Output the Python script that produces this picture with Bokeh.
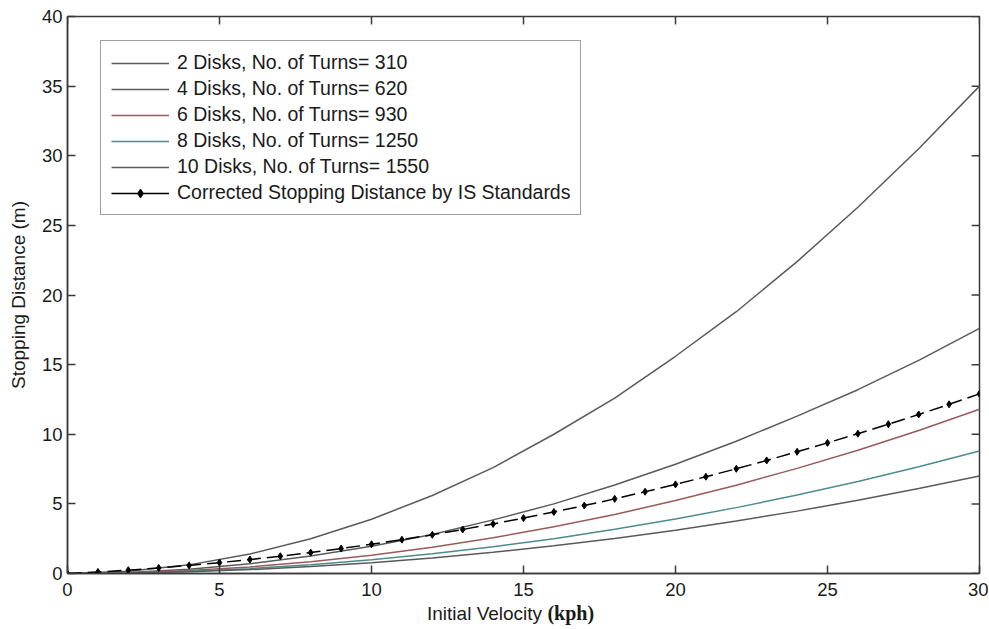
from bokeh.plotting import figure
from bokeh.models import Range1d, Legend, LegendItem, FixedTicker, Div
from bokeh.layouts import column
from bokeh.embed import file_html
from bokeh.resources import INLINE

# ---- data ----
v_even = [0, 2, 4, 6, 8, 10, 12, 14, 16, 18, 20, 22, 24, 26, 28, 30]
d_2disks = [0, 0.16, 0.62, 1.4, 2.5, 3.9, 5.6, 7.6, 10.0, 12.6, 15.6, 18.8, 22.4, 26.3, 30.5, 35.0]
d_4disks = [0, 0.08, 0.31, 0.7, 1.25, 1.96, 2.8, 3.85, 5.0, 6.35, 7.85, 9.5, 11.3, 13.2, 15.3, 17.6]
d_6disks = [0, 0.05, 0.21, 0.47, 0.84, 1.31, 1.89, 2.57, 3.35, 4.24, 5.24, 6.34, 7.55, 8.85, 10.27, 11.79]
d_8disks = [0, 0.04, 0.16, 0.35, 0.63, 0.98, 1.41, 1.92, 2.50, 3.17, 3.91, 4.73, 5.63, 6.61, 7.67, 8.80]
d_10disks = [0, 0.03, 0.12, 0.28, 0.50, 0.78, 1.12, 1.52, 1.99, 2.52, 3.11, 3.77, 4.48, 5.26, 6.10, 7.00]

v_int = list(range(0, 31))
d_is = [0, 0.11, 0.24, 0.40, 0.58, 0.78, 1.00, 1.24, 1.50, 1.79, 2.10, 2.43, 2.78, 3.16,
        3.56, 3.98, 4.42, 4.88, 5.36, 5.87, 6.40, 6.95, 7.52, 8.12, 8.74, 9.38, 10.04,
        10.72, 11.42, 12.15, 12.90]

labels = ["2 Disks, No. of Turns= 310", "4 Disks, No. of Turns= 620",
          "6 Disks, No. of Turns= 930", "8 Disks, No. of Turns= 1250",
          "10 Disks, No. of Turns= 1550", "Corrected Stopping Distance by IS Standards"]
x_ticks = [0, 5, 10, 15, 20, 25, 30]
y_ticks = [0, 5, 10, 15, 20, 25, 30, 35, 40]
x_title = "Initial Velocity"
x_unit = "(kph)"
y_title = "Stopping Distance (m)"

FONT = "Liberation Sans"
GRAY = "#5a5a5a"
AX = "#3a3a3a"

p = figure(width=988, height=604, output_backend="svg", toolbar_location=None,
           x_range=Range1d(0, 30), y_range=Range1d(0, 40),
           min_border_left=67, min_border_right=9, min_border_top=16, min_border_bottom=31)
p.grid.visible = False
p.outline_line_color = AX
p.outline_line_width = 1.5
p.background_fill_color = "white"
p.border_fill_color = "white"

for ax, ticks in ((p.xaxis[0], x_ticks), (p.yaxis[0], y_ticks)):
    ax.ticker = FixedTicker(ticks=ticks)
    ax.major_tick_in = 8
    ax.major_tick_out = 0
    ax.minor_tick_line_color = None
    ax.axis_line_color = AX
    ax.axis_line_width = 1.5
    ax.major_tick_line_color = AX
    ax.major_tick_line_width = 1.5
    ax.major_label_text_font = FONT
    ax.major_label_text_font_size = "18.5px"
    ax.major_label_text_color = "#1a1a1a"

p.yaxis.major_label_standoff = 5
p.xaxis.major_label_standoff = 9
p.yaxis.axis_label = y_title
p.yaxis.axis_label_text_font = FONT
p.yaxis.axis_label_text_font_size = "19px"
p.yaxis.axis_label_text_font_style = "normal"
p.yaxis.axis_label_text_color = "#1a1a1a"
p.yaxis.axis_label_standoff = 10

# inward ticks on the right and top edges of the box, derived from the tick lists
dx = 0.26  # ~8 px in x data units
dy = 0.58  # ~8 px in y data units
p.segment(x0=[x_ticks[-1]] * len(y_ticks), x1=[x_ticks[-1] - dx] * len(y_ticks),
          y0=y_ticks, y1=y_ticks, line_color=AX, line_width=1.5)
p.segment(x0=x_ticks, x1=x_ticks, y0=[y_ticks[-1]] * len(x_ticks),
          y1=[y_ticks[-1] - dy] * len(x_ticks), line_color=AX, line_width=1.5)

r2 = p.line(v_even, d_2disks, line_color=GRAY, line_width=1.5)
r4 = p.line(v_even, d_4disks, line_color=GRAY, line_width=1.5)
r6 = p.line(v_even, d_6disks, line_color="#9a5a5a", line_width=1.5)
r8 = p.line(v_even, d_8disks, line_color="#4c8c8c", line_width=1.5)
r10 = p.line(v_even, d_10disks, line_color=GRAY, line_width=1.5)
ris = p.line(v_int, d_is, line_color="black", line_width=1.5, line_dash="14 6")
ms = p.scatter(v_int, d_is, marker="diamond", size=7, fill_color="black", line_color="black")
leg_line = p.line(v_int[:1], d_is[:1], line_color="black", line_width=1.5)

legend = Legend(items=[
    LegendItem(label=labels[0], renderers=[r2]),
    LegendItem(label=labels[1], renderers=[r4]),
    LegendItem(label=labels[2], renderers=[r6]),
    LegendItem(label=labels[3], renderers=[r8]),
    LegendItem(label=labels[4], renderers=[r10]),
    LegendItem(label=labels[5], renderers=[leg_line, ms]),
], location=(33, 358))
legend.margin = 0
legend.padding = 10
legend.spacing = 3
legend.label_height = 22
legend.glyph_height = 22
legend.glyph_width = 58
legend.label_standoff = 8
legend.label_text_font = FONT
legend.label_text_font_size = "19.5px"
legend.label_text_color = "#1a1a1a"
legend.border_line_color = "#444444"
legend.border_line_width = 1.5
legend.background_fill_color = "white"
legend.background_fill_alpha = 1
p.add_layout(legend, "center")

# x axis title: sans text followed by a bold serif unit, as real text below the plot
xlabel = Div(
    text=(f'<div style="white-space:nowrap;padding-left:427px;font-family:\'Liberation Sans\';'
          f'font-size:19px;line-height:18px;color:#1a1a1a">{x_title} '
          f'<span style="font-family:\'Liberation Serif\';font-weight:bold;font-size:20px">'
          f'{x_unit}</span></div>'),
    width=988, height=24, margin=(0, 0, 0, 0))

layout = column(p, xlabel, spacing=0)
open("out.html", "w").write(file_html(layout, INLINE))
